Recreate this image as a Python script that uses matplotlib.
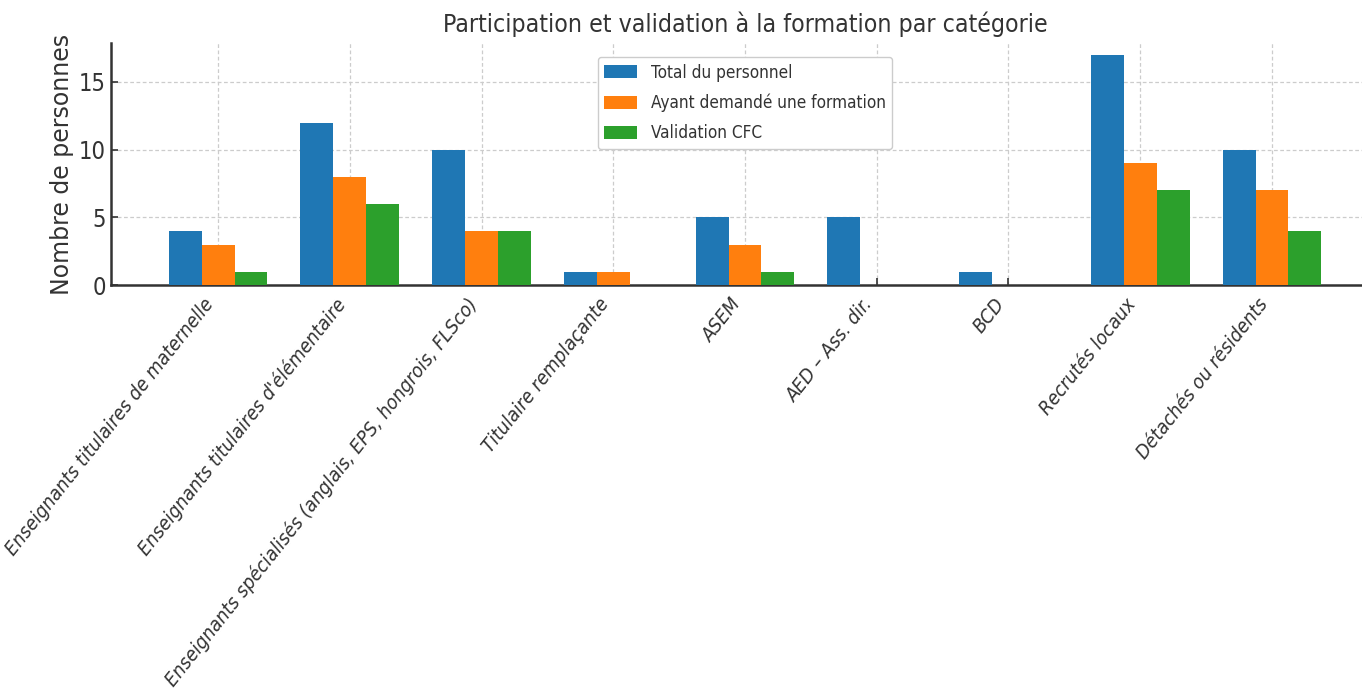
import numpy as np
import matplotlib
matplotlib.use('Agg')
import matplotlib.pyplot as plt
import matplotlib.font_manager as fm

categories = [
    "Enseignants titulaires de maternelle",
    "Enseignants titulaires d'élémentaire",
    "Enseignants spécialisés (anglais, EPS, hongrois, FLSco)",
    "Titulaire remplaçante",
    "ASEM",
    "AED – Ass. dir.",
    "BCD",
    "Recrutés locaux",
    "Détachés ou résidents",
]
total = [4, 12, 10, 1, 5, 5, 1, 17, 10]
demande = [3, 8, 4, 1, 3, 0, 0, 9, 7]
cfc = [1, 6, 4, 0, 1, 0, 0, 7, 4]
series_names = ["Total du personnel", "Ayant demandé une formation", "Validation CFC"]
colors = ["#1f77b4", "#ff7f0e", "#2ca02c"]

plt.rcParams['font.family'] = ['DejaVu Sans']
plt.rcParams['text.color'] = '#333333'
plt.rcParams['axes.labelcolor'] = '#333333'
plt.rcParams['xtick.color'] = '#333333'
plt.rcParams['ytick.color'] = '#333333'

# police condensée (l'image de référence est compressée horizontalement)
def cond(size, **kw):
    return fm.FontProperties(family='DejaVu Sans', stretch='condensed', size=size, **kw)

fig = plt.figure(figsize=(13.62, 6.89), dpi=100)
ax = fig.add_axes([0.0815, 0.586, 0.931, 0.3512])

x = np.arange(len(categories))
w = 0.25
for i, (vals, name) in enumerate(zip([total, demande, cfc], series_names)):
    ax.bar(x + (i - 1) * w, vals, w, color=colors[i], label=name, zorder=3)

ax.set_xticks(x)
ax.set_xticklabels(categories, rotation=51.5, ha='right',
                   fontproperties=cond(14.2, style='italic'))
ax.set_yticks([0, 5, 10, 15])
for t in ax.get_yticklabels():
    t.set_fontproperties(cond(17))
ax.set_ylabel("Nombre de personnes", fontsize=17)
ax.set_title("Participation et validation à la formation par catégorie",
             fontproperties=cond(17.8), pad=8)

ax.grid(True, linestyle=(0, (3, 2)), color='#cccccc', linewidth=0.9, zorder=0)
ax.tick_params(direction='in', length=5, width=1.2)
ax.tick_params(axis='x', pad=7)
for s in ['top', 'right']:
    ax.spines[s].set_visible(False)
for s in ['left', 'bottom']:
    ax.spines[s].set_linewidth(1.8)
    ax.spines[s].set_color('#333333')

leg = ax.legend(loc='upper center', prop=cond(12.3),
                handlelength=1.9, handleheight=0.8, labelspacing=0.7,
                framealpha=1, edgecolor='#cccccc', borderaxespad=0.8)

fig.savefig('out.png', dpi=100)
